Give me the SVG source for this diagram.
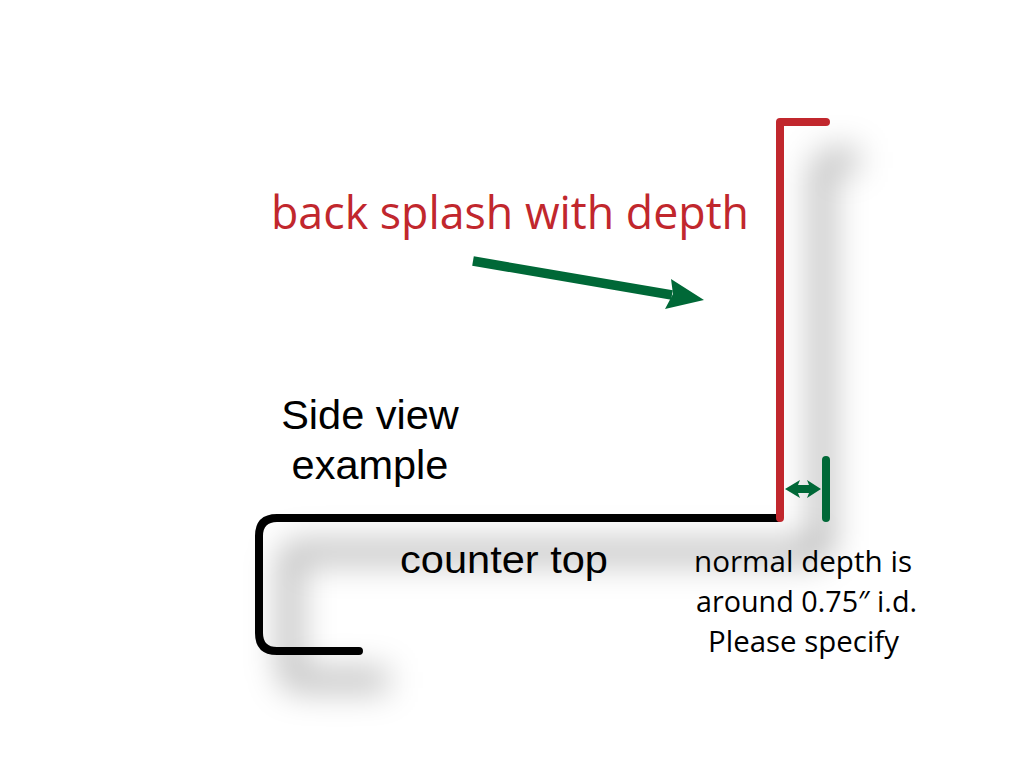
<svg xmlns="http://www.w3.org/2000/svg" width="1024" height="768" viewBox="0 0 1024 768">
<style>
.myr{font-family:"Open Sans","Noto Sans",sans-serif}
.ari{font-family:"Liberation Sans",Arial,sans-serif;fill:#000}
.lbl{font-size:29px;fill:#000}
.ln{fill:none;stroke-width:8;stroke-linecap:round;stroke-linejoin:round}
</style>
<defs><filter id="b" x="-40%" y="-40%" width="180%" height="180%"><feGaussianBlur stdDeviation="16"/></filter></defs>
<rect width="1024" height="768" fill="#fff"/>
<g id="shadows" filter="url(#b)" fill="none" stroke="#000" stroke-opacity=".25" stroke-width="24">
<path d="M822 160H858M822 160V552"/>
<path d="M822 552H300Q290 552 290 562V668Q290 680 300 680H388"/>
</g>
<g id="connectors">
<path class="ln" stroke="#000" d="M778 518H277Q259 518 259 536V633Q259 651 277 651H359"/>
<path class="ln" stroke="#c1272d" d="M826 122H780V518"/>
<path d="M473 261L672 295" fill="none" stroke="#006837" stroke-width="9.5"/>
<path d="M671 279L704 300L665 309L673 294Z" fill="#006837"/>
<path class="ln" stroke="#006837" d="M826 460V518"/>
<path d="M785 489L800 480L798 485H809L807 480L821 489L807 498L809 493H798L800 498Z" fill="#006837"/>
</g>
<g id="title"><text class="myr" x="271" y="229" font-size="46" font-weight="500" fill="#c1272d" textLength="478" lengthAdjust="spacingAndGlyphs">back splash with depth</text></g>
<g id="side-view"><text class="ari" font-size="41.5" text-anchor="middle"><tspan x="370" y="429">Side view</tspan><tspan x="370" y="479">example</tspan></text></g>
<g id="counter-top"><text class="ari" x="400" y="573" font-size="38" textLength="208" lengthAdjust="spacingAndGlyphs">counter top</text></g>
<g id="note" font-weight="500">
<text class="myr lbl" x="694" y="572" textLength="218" lengthAdjust="spacingAndGlyphs">normal depth is</text>
<text class="myr lbl" x="696" y="612" textLength="221" lengthAdjust="spacingAndGlyphs">around 0.75″ i.d.</text>
<text class="myr lbl" x="708" y="652" textLength="191" lengthAdjust="spacingAndGlyphs">Please specify</text>
</g>
</svg>
